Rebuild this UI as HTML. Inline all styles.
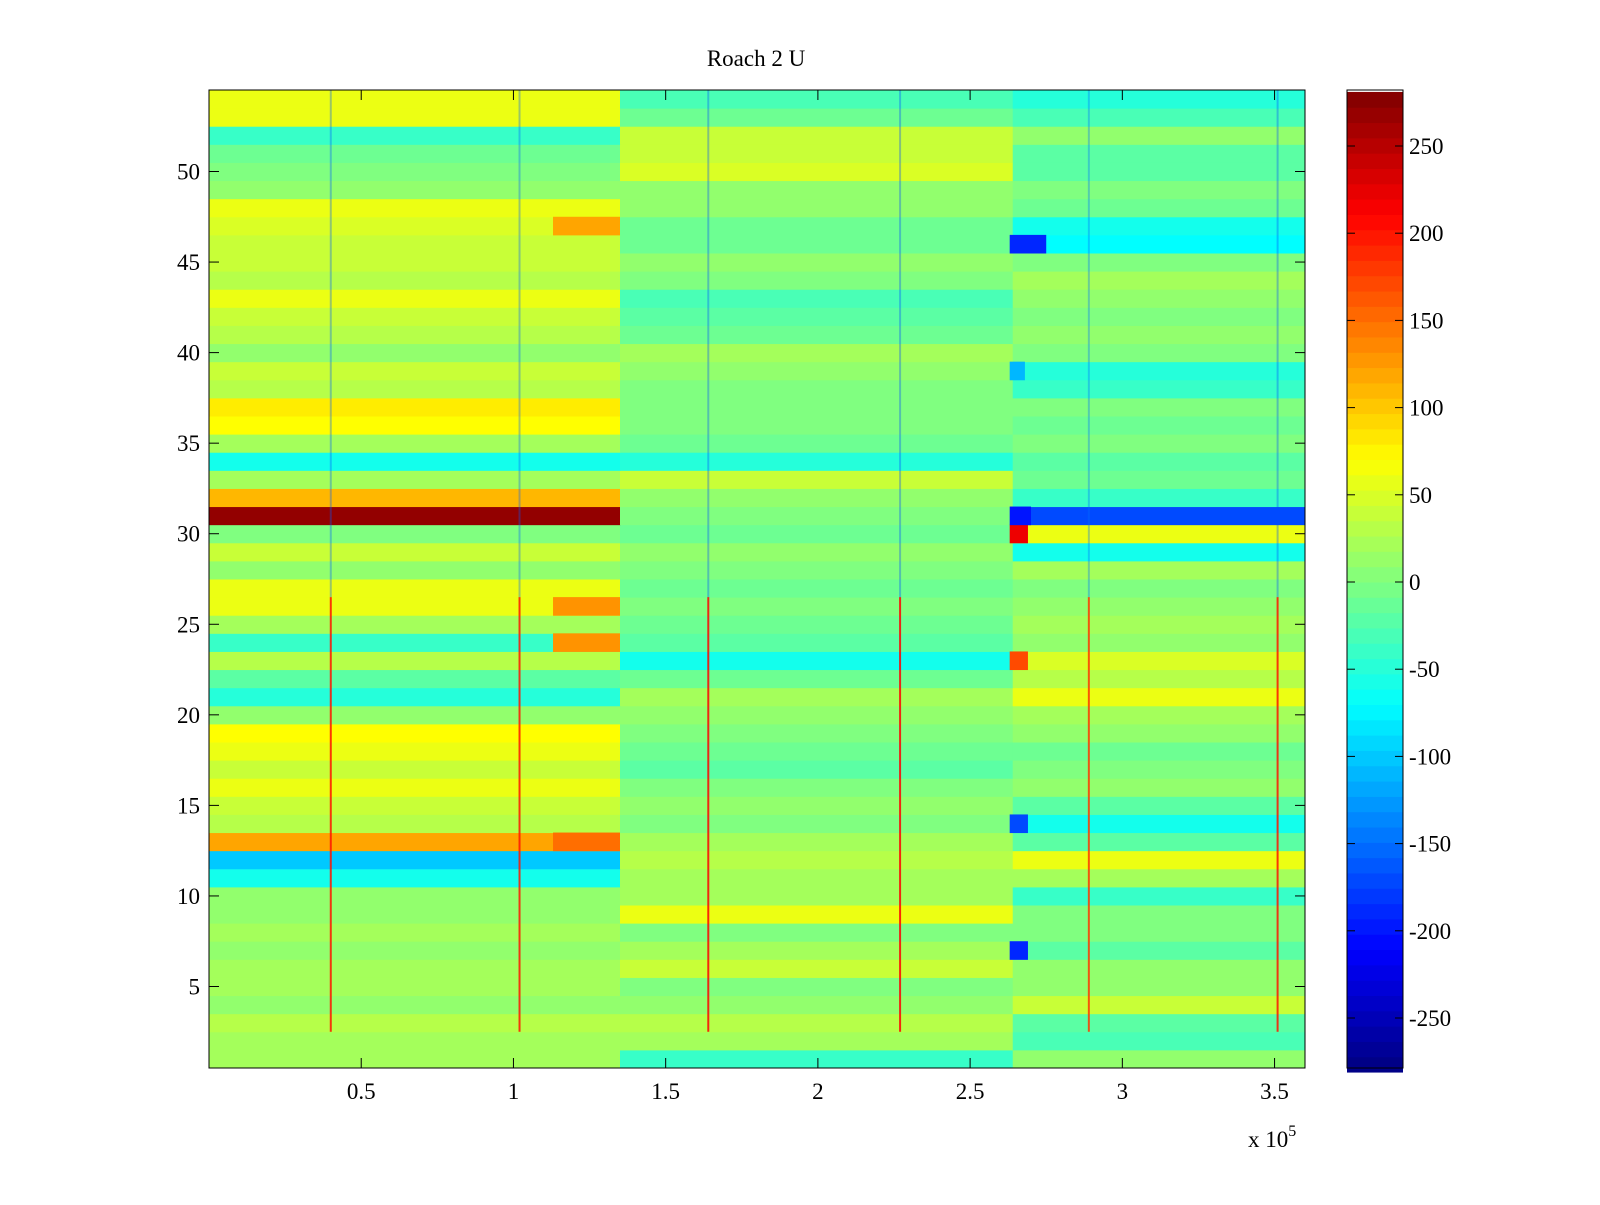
<!DOCTYPE html>
<html><head><meta charset="utf-8"><style>
body{margin:0;background:#fff;}
svg text{font-family:"Liberation Serif",serif;font-size:23px;fill:#000;}
</style></head><body>
<svg id="chart" width="1600" height="1200" xmlns="http://www.w3.org/2000/svg">
<rect width="1600" height="1200" fill="#fff"/>
<text x="756" y="66" text-anchor="middle">Roach 2 U</text>
<g id="cells"></g>
<g id="axes"></g>
<g id="cbar"></g>
</svg>
<script>
// segment boundaries (x units of 1e5)
const segEdges = [0, 1.35, 2.64, 3.6];
// per row (row 1 .. 54) mean value in segments A, B, C
const segA = [20,20,30,10,20,20,10,20,10,10,-60,-100,120,30,40,60,40,60,70,10,-50,-20,30,-40,20,60,60,10,40,0,270,110,20,-60,20,70,80,30,40,10,30,40,60,30,40,40,50,60,10,0,-10,-40,60,60];
const segB = [-40,20,30,10,0,40,20,0,60,20,20,30,20,0,10,0,-20,-10,0,10,20,-10,-60,-20,-10,0,-10,0,10,-10,0,10,40,-50,-10,0,0,0,10,20,-10,-20,-30,0,10,-10,-10,10,10,50,40,40,-10,-30];
const segC = [10,-30,-20,40,10,10,-20,0,0,-40,20,60,-20,-60,-20,10,0,-10,10,20,60,30,50,10,20,10,0,20,-60,60,-170,-40,-10,-20,0,-10,0,-40,-50,0,10,0,10,20,0,-70,-60,-10,0,-20,-20,10,-30,-50];
// patches: row, x0, x1, value
const patchRow = [47,26,24,13,30,23,31,14,46,7,39];
const patchX0 = [1.13,1.13,1.13,1.13,2.63,2.63,2.63,2.63,2.63,2.63,2.63];
const patchX1 = [1.35,1.35,1.35,1.35,2.69,2.69,2.70,2.69,2.75,2.69,2.68];
const patchV = [120,130,130,150,220,170,-200,-170,-190,-190,-110];
// vertical spikes
const spikeX = [0.40,1.02,1.64,2.27,2.89,3.51];
const spikeLow = [200,200,210,210,180,200];
const spikeHigh = [-160,-160,-170,-170,-150,-170];
const cbTicks = [-250,-200,-150,-100,-50,0,50,100,150,200,250];
const xTicks = [0.5,1,1.5,2,2.5,3,3.5];
const yTicks = [5,10,15,20,25,30,35,40,45,50];

const L=209,R=1305,T=90,B=1068, VMAX=281;
const sx=v=>L+(v/3.6)*(R-L);
const sy=v=>B-((v-0.5)/54)*(B-T);
function jet(v){let t=(v+VMAX)/(2*VMAX);t=Math.max(0,Math.min(1,t));
 const f=x=>Math.max(0,Math.min(1,1.5-Math.abs(4*t-x)));
 return `rgb(${Math.round(255*f(3))},${Math.round(255*f(2))},${Math.round(255*f(1))})`;}
const NS='http://www.w3.org/2000/svg';
function mk(tag,at,parent){const e=document.createElementNS(NS,tag);for(const k in at)e.setAttribute(k,at[k]);parent.appendChild(e);return e;}
const cells=document.getElementById('cells');
const segs=[segA,segB,segC];
for(let r=1;r<=54;r++){
 for(let s=0;s<3;s++){
  const e=mk('rect',{x:sx(segEdges[s]),y:sy(r+0.5),width:sx(segEdges[s+1])-sx(segEdges[s])+0.5,height:sy(r-0.5)-sy(r+0.5)+0.5,fill:jet(segs[s][r-1])},cells);
  
  
 }
}
patchRow.forEach((r,i)=>{
 const e=mk('rect',{x:sx(patchX0[i]),y:sy(r+0.5),width:sx(patchX1[i])-sx(patchX0[i]),height:sy(r-0.5)-sy(r+0.5)+0.5,fill:jet(patchV[i])},cells);
 
 
});
spikeX.forEach((x,i)=>{
 let e=mk('rect',{x:sx(x)-1,y:sy(26.5),width:2,height:sy(2.5)-sy(26.5),fill:jet(spikeLow[i]),opacity:0.85},cells);
 
 
 e=mk('rect',{x:sx(x)-1,y:sy(54.5),width:2,height:sy(26.5)-sy(54.5),fill:jet(spikeHigh[i]),opacity:0.35},cells);
 
 
});
const ax=document.getElementById('axes');
mk('rect',{x:L,y:T,width:R-L,height:B-T,fill:'none',stroke:'#000','stroke-width':1},ax);
xTicks.forEach(v=>{const x=sx(v);
 mk('line',{x1:x,x2:x,y1:B,y2:B-10,stroke:'#000'},ax);mk('line',{x1:x,x2:x,y1:T,y2:T+10,stroke:'#000'},ax);
 const t=mk('text',{x:x,y:B+31,'text-anchor':'middle'},ax);t.textContent=v;
 
 });
yTicks.forEach(v=>{const y=sy(v);
 mk('line',{x1:L,x2:L+10,y1:y,y2:y,stroke:'#000'},ax);mk('line',{x1:R,x2:R-10,y1:y,y2:y,stroke:'#000'},ax);
 const t=mk('text',{x:L-9,y:y+8,'text-anchor':'end'},ax);t.textContent=v;
 
 });
const ex=mk('text',{x:1248,y:1147},ax);ex.innerHTML='x 10<tspan dy="-11" font-size="16">5</tspan>';


const cb=document.getElementById('cbar');
const CL=1347,CR=1403;const cy=v=>582-v*1.744;
for(let i=0;i<64;i++){const v0=-VMAX+i*2*VMAX/64,v1=v0+2*VMAX/64;
 mk('rect',{x:CL,y:cy(v1),width:CR-CL,height:cy(v0)-cy(v1)+0.5,fill:jet((v0+v1)/2)},cb);}
mk('rect',{x:CL,y:T,width:CR-CL,height:B-T,fill:'none',stroke:'#000'},cb);
cbTicks.forEach(v=>{const y=cy(v);
 mk('line',{x1:CL,x2:CL+8,y1:y,y2:y,stroke:'#000'},cb);mk('line',{x1:CR,x2:CR-8,y1:y,y2:y,stroke:'#000'},cb);
 const t=mk('text',{x:CR+6,y:y+8},cb);t.textContent=v;
 
 });
</script>
</body></html>
